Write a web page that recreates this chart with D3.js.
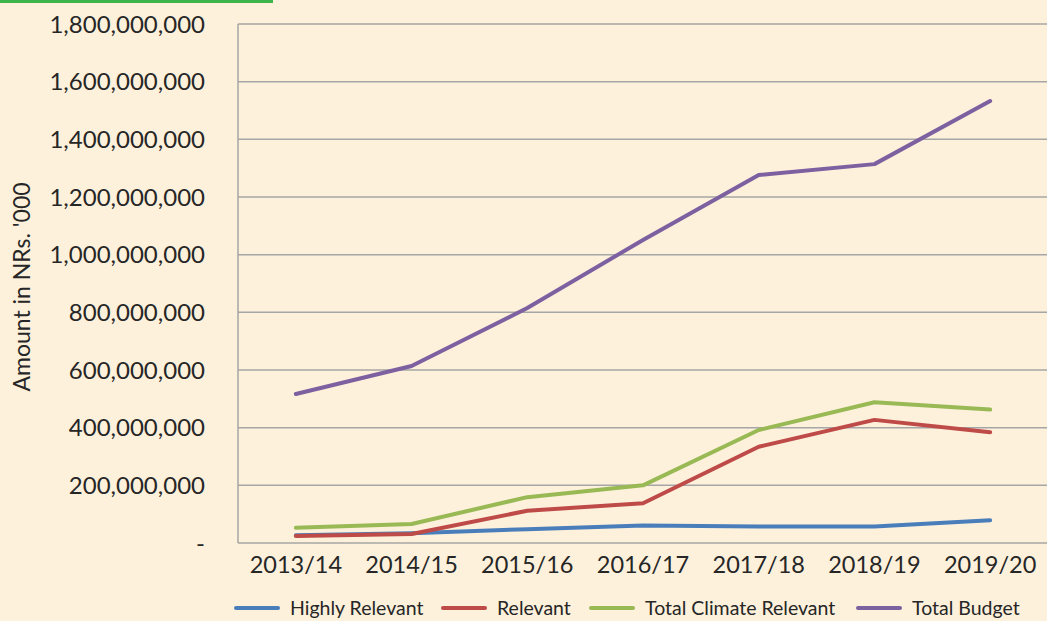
<!DOCTYPE html>
<html>
<head>
<meta charset="utf-8">
<script src="https://cdn.jsdelivr.net/npm/d3@7"></script>
<style>
  html, body { margin: 0; padding: 0; background: #fdf1dc; }
  svg { display: block; font-family: Lato, "Open Sans", sans-serif; }
</style>
</head>
<body>
<script>
// years on the x axis
const years = ["2013/14", "2014/15", "2015/16", "2016/17", "2017/18", "2018/19", "2019/20"];

// amounts in NRs '000
const highlyRelevant = [27e6, 34e6, 48e6, 61e6, 57e6, 57e6, 79e6];
const relevant = [24e6, 31e6, 112e6, 138e6, 334e6, 427e6, 384e6];
const totalClimate = [53e6, 66e6, 159e6, 200e6, 392e6, 488e6, 463e6];
const totalBudget = [517e6, 614e6, 815e6, 1051e6, 1276e6, 1314e6, 1533e6];

const seriesNames = ["Highly Relevant", "Relevant", "Total Climate Relevant", "Total Budget"];
const seriesColors = ["#4a7ebb", "#be4b48", "#98b954", "#7d60a0"];
const yTicks = [0, 200e6, 400e6, 600e6, 800e6, 1000e6, 1200e6, 1400e6, 1600e6, 1800e6];

const width = 1047, height = 621;
const margin = { top: 24, right: -1, bottom: 78, left: 238 };

const svg = d3.select("body").append("svg")
  .attr("width", width)
  .attr("height", height);

// green strip at the top
svg.append("rect")
  .attr("x", 0).attr("y", 0)
  .attr("width", 273).attr("height", 3)
  .attr("fill", "#3cb54a");

const x = d3.scaleBand()
  .domain(years)
  .range([margin.left, width - margin.right]);

const y = d3.scaleLinear()
  .domain([0, 1800e6])
  .range([height - margin.bottom, margin.top]);

// gridlines
svg.append("g")
  .selectAll("line")
  .data(yTicks.filter(d => d > 0))
  .join("line")
  .attr("x1", margin.left)
  .attr("x2", width)
  .attr("y1", d => y(d))
  .attr("y2", d => y(d))
  .attr("stroke", "#a6a6a6")
  .attr("stroke-width", 1.5);

// axis lines
svg.append("line")
  .attr("x1", margin.left).attr("x2", margin.left)
  .attr("y1", y(1800e6)).attr("y2", y(0))
  .attr("stroke", "#a6a6a6").attr("stroke-width", 1.5);
svg.append("line")
  .attr("x1", margin.left).attr("x2", width)
  .attr("y1", y(0)).attr("y2", y(0))
  .attr("stroke", "#a6a6a6").attr("stroke-width", 1.5);

// y tick labels
const fmt = d3.format(",");
svg.append("g")
  .selectAll("text")
  .data(yTicks)
  .join("text")
  .attr("x", 205)
  .attr("y", d => y(d))
  .attr("dy", "0.36em")
  .attr("text-anchor", "end")
  .attr("font-size", 24)
  .attr("fill", "#262626")
  .text(d => d === 0 ? "-" : fmt(d));

// x tick labels
svg.append("g")
  .selectAll("text")
  .data(years)
  .join("text")
  .attr("x", d => x(d) + x.bandwidth() / 2)
  .attr("y", 573)
  .attr("text-anchor", "middle")
  .attr("font-size", 23.5)
  .attr("fill", "#262626")
  .text(d => d);

// y axis title
svg.append("text")
  .attr("transform", "translate(30,287) rotate(-90)")
  .attr("text-anchor", "middle")
  .attr("font-size", 23)
  .attr("fill", "#262626")
  .text("Amount in NRs. '000");

const series = [highlyRelevant, relevant, totalClimate, totalBudget];

const line = d3.line()
  .x((d, i) => x(years[i]) + x.bandwidth() / 2)
  .y(d => y(d));

svg.append("g")
  .selectAll("path")
  .data(series)
  .join("path")
  .attr("d", d => line(d))
  .attr("fill", "none")
  .attr("stroke", (d, i) => seriesColors[i])
  .attr("stroke-width", 4)
  .attr("stroke-linecap", "round")
  .attr("stroke-linejoin", "round");

// legend
const legendX = [236, 443, 591, 858];
const legend = svg.append("g")
  .selectAll("g")
  .data(seriesNames)
  .join("g")
  .attr("transform", (d, i) => `translate(${legendX[i]},608)`);

legend.append("line")
  .attr("x1", 0).attr("x2", 42)
  .attr("stroke", (d, i) => seriesColors[i])
  .attr("stroke-width", 4)
  .attr("stroke-linecap", "round");

legend.append("text")
  .attr("x", 54)
  .attr("dy", "0.36em")
  .attr("font-size", 19.5)
  .attr("fill", "#262626")
  .text(d => d);
</script>
</body>
</html>
